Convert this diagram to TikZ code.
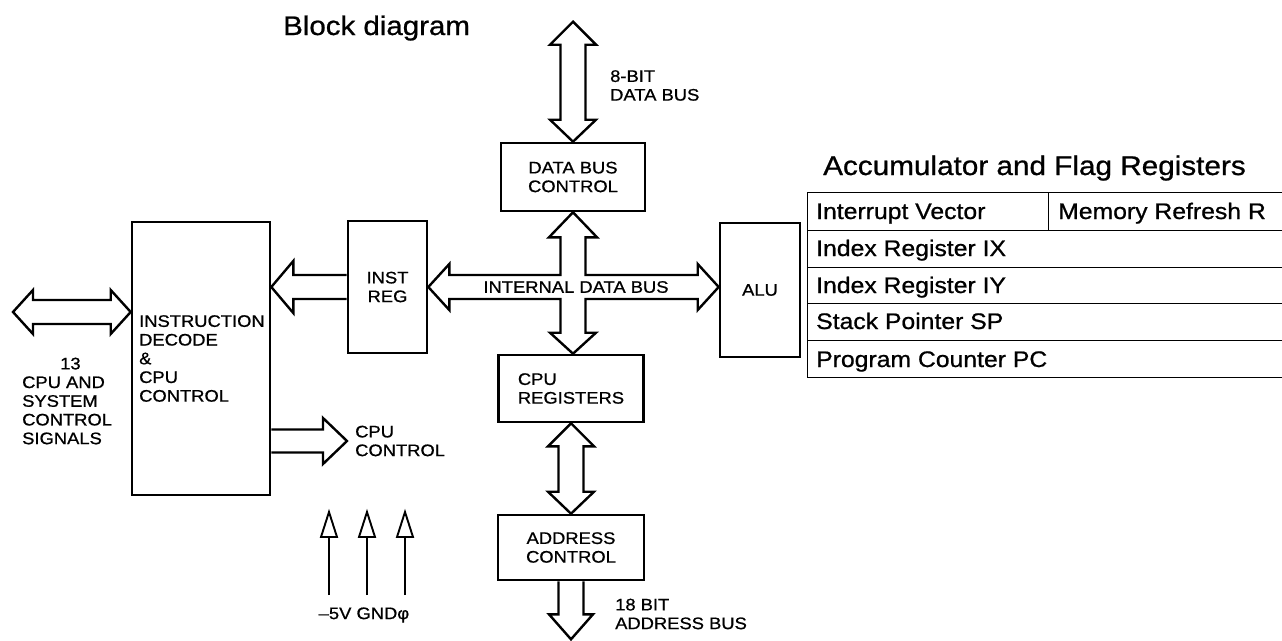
\documentclass[tikz,border=0pt]{standalone}
\usepackage{fontspec}
\usepackage{graphicx}
\setmainfont{Liberation Sans}[FakeStretch=1.1,FakeBold=0.8]
\usetikzlibrary{calc}
\newcommand\lblfont{\fontsize{16.7}{18.7}\selectfont}
\newcommand\regfont{\fontsize{22.5}{26}\selectfont}
\newcommand\headfont{\fontsize{27}{30}\selectfont}
\newcommand\zvdarrow[2]{\path[bus] (#1) -- ($(#1)+(23,23)$) -- ($(#1)+(12.5,23)$) -- ($(#2)+(12.5,-22)$) -- ($(#2)+(23,-22)$) -- (#2) -- ($(#2)+(-23,-22)$) -- ($(#2)+(-12.5,-22)$) -- ($(#1)+(-12.5,23)$) -- ($(#1)+(-23,23)$) -- cycle;}
\tikzset{
  blk/.style={draw, line width=2.6pt, inner sep=0pt, font=\lblfont, align=center},
  bus/.style={draw, line width=2.4pt, line join=miter, fill=white},
  lbl/.style={inner sep=0pt, font=\lblfont, align=left},
  regtxt/.style={inner sep=0pt, font=\regfont, anchor=base west},
  regline/.style={line width=1pt},
  pwr/.style={line width=1.9pt},
}
\begin{document}
\begin{tikzpicture}[x=1pt,y=-1pt]
\fill[white] (0,0) rectangle (1282,640);
\useasboundingbox (0,0) rectangle (1282,640);

% titles
\node[anchor=base west, inner sep=0pt, font=\fontsize{26.8}{30}\selectfont] (title) at (283,35) {Block diagram};
\node[anchor=base west, inner sep=0pt, font=\headfont] (acc) at (823,175) {Accumulator and Flag Registers};

% blocks
\node[blk, minimum width=138pt, minimum height=273pt] (dec) at (201,358.5) {};
\node[blk, minimum width=79pt, minimum height=132pt] (ir) at (387.5,287) {INST\\REG};
\node[blk, minimum width=144pt, minimum height=68pt] (dbc) at (573,177) {DATA BUS\\CONTROL};
\node[blk, minimum width=80pt, minimum height=134pt] (alu) at (760,290) {ALU};
\node[blk, minimum width=145pt, minimum height=67pt, align=left] (cr) at (571,388.5) {CPU\\REGISTERS};
\node[blk, minimum width=146pt, minimum height=65pt] (ac) at (571,547.5) {ADDRESS\\CONTROL};

% texts
\node[lbl, anchor=west] (dect) at (139,358.5) {INSTRUCTION\\DECODE\\\&\\CPU\\CONTROL};
\node[lbl, anchor=west] (sigt) at (22,401) {\hspace*{38pt}13\\CPU AND\\SYSTEM\\CONTROL\\SIGNALS};
\node[lbl, anchor=west] (dbt) at (610,85.5) {8-BIT\\DATA BUS};
\node[lbl, anchor=west] (cct) at (355,441) {CPU\\CONTROL};
\node[lbl, anchor=west] (abt) at (615,614) {18 BIT\\ADDRESS BUS};
\node[lbl, anchor=center] (pwt) at (364,615) {–5V GNDφ};

% 8-bit data bus
\coordinate (dtop) at ($(dbc.north)+(0,-120)$);
\zvdarrow{dtop}{dbc.north}

% internal data bus cross
\coordinate (xT) at (dbc.south);
\coordinate (xB) at (dbc.south |- cr.north);
\coordinate (xL) at (ir.east);
\coordinate (xR) at (ir.east -| alu.west);
\coordinate (xC) at (dbc.south |- ir.east);
\path[bus] (xT) -- ($(xT)+(24,25)$) -- ($(xT)+(12.5,25)$) -- ($(xC)+(12.5,-12)$)
  -- ($(xR)+(-21,-12)$) -- ($(xR)+(-21,-23)$) -- (xR) -- ($(xR)+(-21,23)$) -- ($(xR)+(-21,12)$)
  -- ($(xC)+(12.5,12)$) -- ($(xB)+(12.5,-21)$) -- ($(xB)+(23,-21)$) -- (xB)
  -- ($(xB)+(-23,-21)$) -- ($(xB)+(-12.5,-21)$) -- ($(xC)+(-12.5,12)$)
  -- ($(xL)+(21,12)$) -- ($(xL)+(21,23)$) -- (xL) -- ($(xL)+(21,-23)$) -- ($(xL)+(21,-12)$)
  -- ($(xC)+(-12.5,-12)$) -- ($(xT)+(-12.5,25)$) -- ($(xT)+(-24,25)$) -- cycle;
\node[lbl, anchor=center] (idb) at ($(xC)+(3,0)$) {INTERNAL DATA BUS};

% CPU registers <-> address control
\coordinate (caB) at (cr.south |- ac.north);
\zvdarrow{cr.south}{caB}

% address bus
\coordinate (abT) at ($(ac.south)+(0,58)$);
\path[bus] ($(ac.south)+(-12.5,0)$) -- ($(abT)+(-12.5,-25)$) -- ($(abT)+(-22,-25)$) -- (abT)
  -- ($(abT)+(22,-25)$) -- ($(abT)+(12.5,-25)$) -- ($(ac.south)+(12.5,0)$);

% inst reg -> decode
\coordinate (irT) at (dec.east |- ir.west);
\path[bus] ($(ir.west)+(0,-12)$) -- ($(irT)+(22,-12)$) -- ($(irT)+(22,-26)$) -- (irT)
  -- ($(irT)+(22,26)$) -- ($(irT)+(22,12)$) -- ($(ir.west)+(0,12)$);

% decode -> CPU control
\coordinate (ccS) at (dec.east |- 0,441);
\coordinate (ccT) at (347,441);
\path[bus] ($(ccS)+(0,-11.5)$) -- ($(ccT)+(-24,-11.5)$) -- ($(ccT)+(-24,-23)$) -- (ccT)
  -- ($(ccT)+(-24,23)$) -- ($(ccT)+(-24,11.5)$) -- ($(ccS)+(0,11.5)$);

% control signals double arrow
\coordinate (sgL) at (13,312);
\coordinate (sgR) at (dec.west |- sgL);
\path[bus] (sgL) -- ($(sgL)+(20,-22)$) -- ($(sgL)+(20,-12)$) -- ($(sgR)+(-20,-12)$) -- ($(sgR)+(-20,-22)$)
  -- (sgR) -- ($(sgR)+(-20,22)$) -- ($(sgR)+(-20,12)$) -- ($(sgL)+(20,12)$) -- ($(sgL)+(20,22)$) -- cycle;

% power arrows
\foreach \x/\n in {329/a,367/b,405/c}{
  \coordinate (pw\n) at (\x,595);
  \coordinate (pt\n) at (\x,512);
  \draw[pwr] (pw\n) -- ($(pt\n)+(0,25)$);
  \draw[pwr, fill=white, line join=miter] (pt\n) -- ++(8,25) -- ++(-16,0) -- cycle;
}

% register table
\foreach \yy in {192,230,267,303,340,377}{
  \draw[regline] (807,\yy) -- (1282,\yy);
}
\draw[regline] (807,192) -- (807,377);
\draw[regline] (1048,192) -- (1048,230);
\node[regtxt] (r1) at (816,219) {Interrupt Vector};
\node[regtxt] (r1b) at (1058,219) {Memory Refresh R};
\node[regtxt] (r2) at (816,256) {Index Register IX};
\node[regtxt] (r3) at (816,293) {Index Register IY};
\node[regtxt] (r4) at (816,329) {Stack Pointer SP};
\node[regtxt] (r5) at (816,367) {Program Counter PC};
\end{tikzpicture}
\end{document}
